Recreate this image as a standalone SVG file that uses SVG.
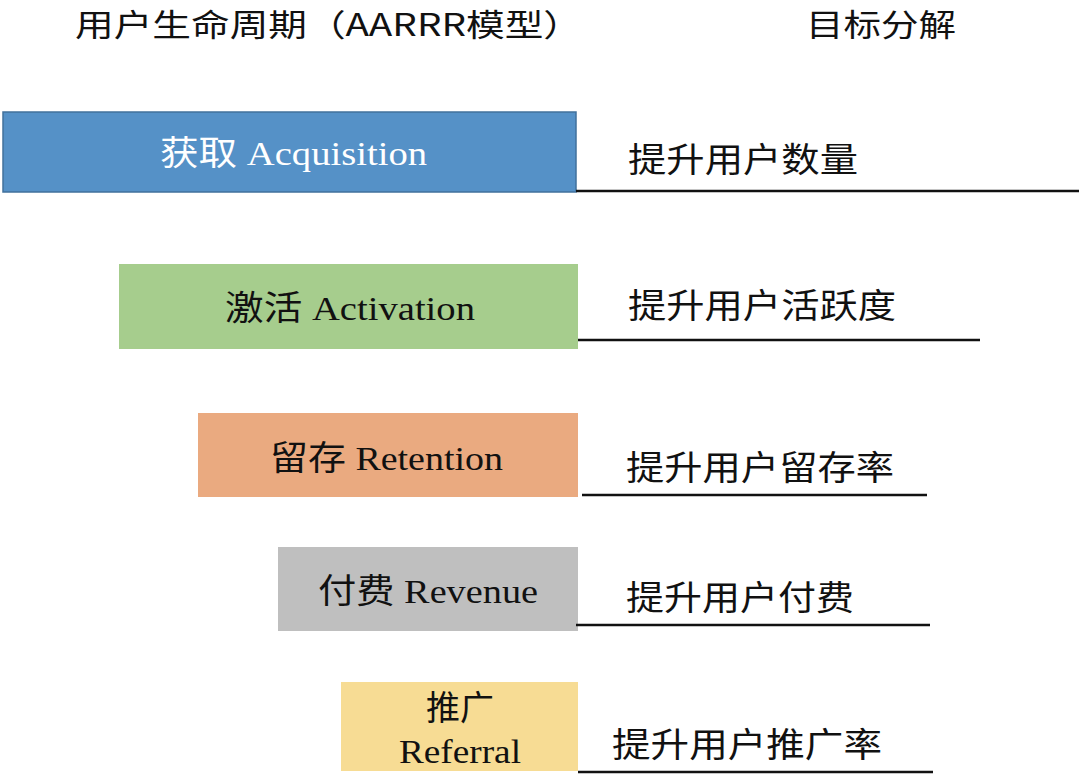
<svg xmlns="http://www.w3.org/2000/svg" width="1079" height="777" viewBox="0 0 1079 777">
<style>
.hdr{font-family:"Noto Sans CJK SC","Liberation Sans",sans-serif;font-size:31px;fill:#111}
.lbl{font-family:"Liberation Serif","Noto Sans CJK SC",serif;font-size:34px;fill:#111}
.goal{font-family:"Noto Sans CJK SC","Liberation Sans",sans-serif;font-size:34px;fill:#111}
.ln{stroke:#111;stroke-width:2.5}
</style>
<rect width="1079" height="777" fill="#fff"/>
<text class="hdr" x="75" y="36" textLength="507" lengthAdjust="spacingAndGlyphs">用户生命周期（AARRR模型）</text>
<text class="hdr" x="806" y="36" textLength="150" lengthAdjust="spacingAndGlyphs">目标分解</text>
<g id="acquisition">
<rect x="3" y="112" width="573" height="80" fill="#5591c7" stroke="#41719c" stroke-width="1.5"/>
<text class="lbl" x="160" y="165" fill="#fff" style="fill:#fff" textLength="267" lengthAdjust="spacingAndGlyphs">获取 Acquisition</text>
</g>
<g id="activation">
<rect x="119" y="264" width="459" height="85" fill="#a6cd8d"/>
<text class="lbl" x="225" y="320" textLength="250" lengthAdjust="spacingAndGlyphs">激活 Activation</text>
</g>
<g id="retention">
<rect x="198" y="413" width="380" height="84" fill="#eaaa80"/>
<text class="lbl" x="270" y="470" textLength="233" lengthAdjust="spacingAndGlyphs">留存 Retention</text>
</g>
<g id="revenue">
<rect x="278" y="547" width="300" height="84" fill="#bfbfbf"/>
<text class="lbl" x="318" y="603" textLength="220" lengthAdjust="spacingAndGlyphs">付费 Revenue</text>
</g>
<g id="referral">
<rect x="341" y="682" width="237" height="89" fill="#f7dc94"/>
<text class="lbl" x="460" y="720" text-anchor="middle">推广</text>
<text class="lbl" x="399" y="763" textLength="122" lengthAdjust="spacingAndGlyphs">Referral</text>
</g>
<g id="goals">
<text class="goal" x="628" y="172" textLength="230" lengthAdjust="spacingAndGlyphs">提升用户数量</text>
<text class="goal" x="628" y="318" textLength="268" lengthAdjust="spacingAndGlyphs">提升用户活跃度</text>
<text class="goal" x="626" y="480" textLength="268" lengthAdjust="spacingAndGlyphs">提升用户留存率</text>
<text class="goal" x="626" y="610" textLength="228" lengthAdjust="spacingAndGlyphs">提升用户付费</text>
<text class="goal" x="612" y="757" textLength="270" lengthAdjust="spacingAndGlyphs">提升用户推广率</text>
</g>
<g id="connectors">
<line class="ln" x1="576" y1="191" x2="1079" y2="191"/>
<line class="ln" x1="578" y1="340" x2="980" y2="340"/>
<line class="ln" x1="582" y1="495" x2="927" y2="495"/>
<line class="ln" x1="576" y1="625" x2="930" y2="625"/>
<line class="ln" x1="578" y1="772" x2="933" y2="772"/>
</g>
</svg>
